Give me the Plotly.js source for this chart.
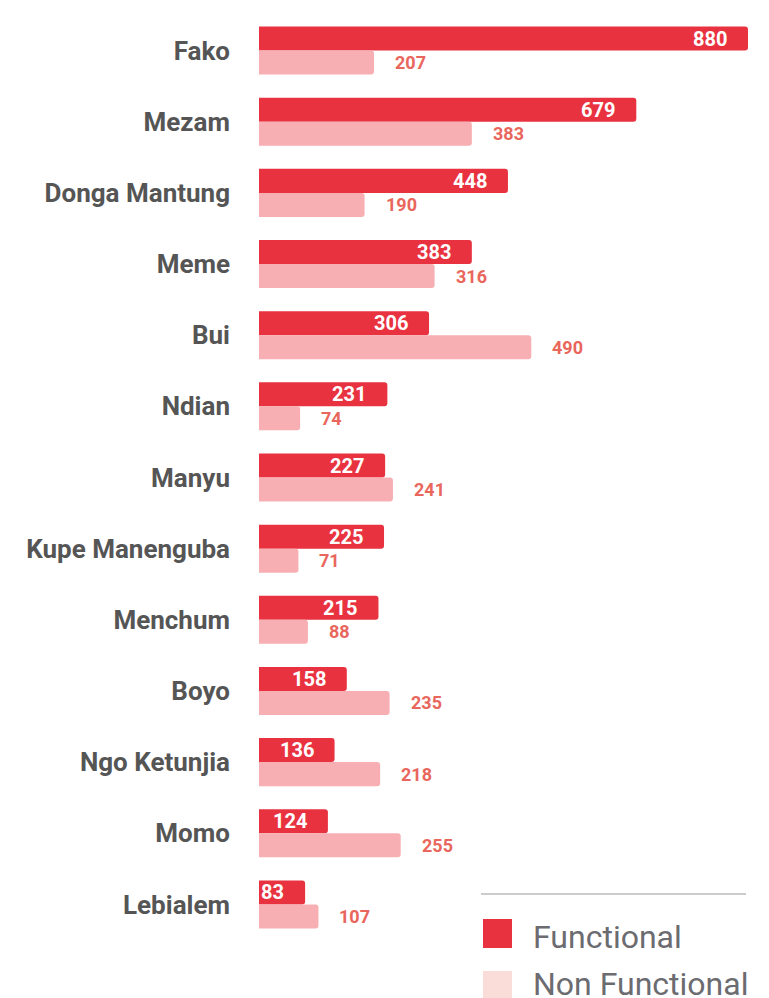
<!DOCTYPE html>
<html>
<head>
<meta charset="utf-8">
<script src="https://cdn.plot.ly/plotly-3.0.1.min.js"></script>
<style>html,body{margin:0;padding:0;background:#fff;}#chart{width:769px;height:998px;}</style>
</head>
<body>
<div id="chart"></div>
<script>
const divisions = ["Fako","Mezam","Donga Mantung","Meme","Bui","Ndian","Manyu","Kupe Manenguba","Menchum","Boyo","Ngo Ketunjia","Momo","Lebialem"];
const functional = [880,679,448,383,306,231,227,225,215,158,136,124,83];
const nonFunctional = [207,383,190,316,490,74,241,71,88,235,218,255,107];
const seriesNames = ["Functional","Non Functional"];

const W = 769, H = 998;
const M = {l: 259, r: 21, t: 15, b: 58};
const plotH = H - M.t - M.b, plotW = W - M.l - M.r;
const py = p => (H - M.b - p) / plotH;   // pixel y -> paper y
const px = p => (p - M.l) / plotW;       // pixel x -> paper x

const cRed = "#e93240", cPink = "#f7afb3", cLegendPink = "#fadcd8";

const traces = [
  {type: "bar", orientation: "h", name: seriesNames[0], y: divisions, x: functional,
   marker: {color: cRed}, hoverinfo: "x+y"},
  {type: "bar", orientation: "h", name: seriesNames[1], y: divisions, x: nonFunctional,
   marker: {color: cPink}, hoverinfo: "x+y"}
];

const annotations = [];
divisions.forEach((d, i) => {
  annotations.push({x: functional[i], y: d, xref: "x", yref: "y", text: String(functional[i]),
    showarrow: false, xanchor: "right", xshift: -19, yshift: 12,
    font: {family: "Roboto", size: 20, color: "#ffffff", weight: 700}});
  annotations.push({x: nonFunctional[i], y: d, xref: "x", yref: "y", text: String(nonFunctional[i]),
    showarrow: false, xanchor: "left", xshift: 19, yshift: -12,
    font: {family: "Roboto", size: 18, color: "#e9665c", weight: 700}});
});
// legend text
annotations.push({xref: "paper", yref: "paper", x: px(531), y: py(937), text: seriesNames[0],
  showarrow: false, xanchor: "left", yanchor: "middle",
  font: {family: "Roboto", size: 32, color: "#6b6b70"}});
annotations.push({xref: "paper", yref: "paper", x: px(531), y: py(984), text: seriesNames[1],
  showarrow: false, xanchor: "left", yanchor: "middle",
  font: {family: "Roboto", size: 32, color: "#6b6b70"}});

const shapes = [
  {type: "line", xref: "paper", yref: "paper", x0: px(481), x1: px(746), y0: py(894), y1: py(894),
   line: {color: "#9a9a9a", width: 1.2}},
  {type: "rect", xref: "paper", yref: "paper", x0: px(483), x1: px(512), y0: py(948), y1: py(919),
   fillcolor: cRed, line: {width: 0}},
  {type: "rect", xref: "paper", yref: "paper", x0: px(483), x1: px(512), y0: py(1000), y1: py(971),
   fillcolor: cLegendPink, line: {width: 0}}
];

const layout = {
  width: W, height: H,
  margin: M,
  paper_bgcolor: "#ffffff", plot_bgcolor: "#ffffff",
  barmode: "group", bargap: 0.325, bargroupgap: 0, barcornerradius: 3,
  showlegend: false,
  xaxis: {range: [0, 880], visible: false, showgrid: false, zeroline: false, fixedrange: true},
  yaxis: {type: "category", autorange: "reversed", showgrid: false, zeroline: false, showline: false,
    ticks: "", ticklabelstandoff: 28,
    tickfont: {family: "Roboto", size: 26, color: "#555555", weight: 700}},
  annotations: annotations,
  shapes: shapes
};

Plotly.newPlot("chart", traces, layout, {displayModeBar: false, staticPlot: true});
</script>
</body>
</html>
